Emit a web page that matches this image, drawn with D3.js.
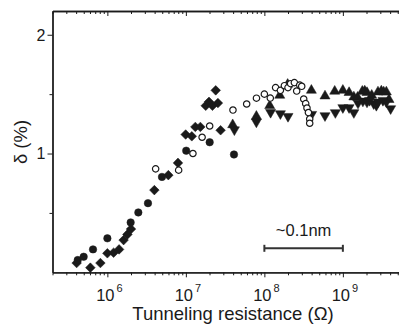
<!DOCTYPE html>
<html>
<head>
<meta charset="utf-8">
<script src="https://cdn.jsdelivr.net/npm/d3@7"></script>
<style>
  body { margin: 0; background: #fff; }
  svg { display: block; font-family: "Liberation Sans", Arial, sans-serif; }
</style>
</head>
<body>
<div id="chart"></div>
<script>
// resistance (Ohm) / delta (%)
const filledCircleR = [4.19e5, 4.99e5, 6.56e5, 1.0e6, 1.98e6, 2.48e6, 3.29e6, 4.96e6, 1.01e7, 2.01e7, 4.10e7];
const filledCircleD = [0.103, 0.131, 0.193, 0.286, 0.42, 0.504, 0.582, 0.803, 1.024, 1.095, 0.992];

const diamondR = [4.06e5, 6.07e5, 8.15e5, 1.0e6, 1.20e6, 1.41e6, 1.61e6, 1.80e6, 2.0e6, 3.97e6, 5.98e6, 7.93e6,
  9.94e6, 1.19e7, 1.32e7, 1.53e7, 1.79e7, 1.97e7, 2.18e7, 2.56e7, 2.40e7, 2.77e7];
const diamondD = [0.078, 0.039, 0.078, 0.16, 0.165, 0.193, 0.271, 0.319, 0.364, 0.692, 0.818, 0.921,
  1.16, 1.145, 1.224, 1.224, 1.402, 1.435, 1.402, 1.425, 1.532, 1.196];

const openCircleR = [4.12e6, 8.09e6, 1.23e7, 1.61e7, 2.01e7, 3.98e7, 5.95e7, 7.93e7, 1.0e8, 1.19e8, 1.39e8, 1.60e8,
  1.80e8, 2.0e8, 2.16e8, 2.41e8, 2.58e8, 2.82e8, 2.99e8, 3.17e8, 3.36e8, 3.49e8, 3.64e8, 3.78e8, 3.78e8];
const openCircleD = [0.871, 0.86, 1.0, 1.137, 1.232, 1.366, 1.417, 1.466, 1.5, 1.467, 1.555, 1.532,
  1.571, 1.555, 1.588, 1.597, 1.526, 1.576, 1.566, 1.459, 1.42, 1.383, 1.345, 1.291, 1.255];

const upR = [3.95e7, 7.91e7, 1.17e8, 1.57e8, 1.98e8, 3.97e8, 5.92e8, 7.87e8, 1.0e9, 1.20e9, 1.38e9,
  1.54e9, 1.77e9, 1.90e9, 2.03e9, 2.33e9, 2.80e9, 3.09e9, 3.31e9, 3.58e9, 3.87e9];
const upD = [1.242, 1.313, 1.403, 1.49, 1.582, 1.532, 1.484, 1.524, 1.532, 1.513, 1.476,
  1.473, 1.524, 1.526, 1.513, 1.49, 1.518, 1.526, 1.518, 1.518, 1.454];

const downR = [4.15e7, 7.91e7, 1.20e8, 1.60e8, 2.0e8, 4.0e8, 5.92e8, 8.02e8, 1.0e9, 1.20e9, 1.38e9,
  1.56e9, 1.80e9, 2.03e9, 2.19e9, 2.47e9, 2.67e9, 2.80e9, 3.24e9, 3.58e9, 4.06e9];
const downD = [1.2, 1.266, 1.347, 1.336, 1.313, 1.33, 1.319, 1.345, 1.387, 1.387, 1.345,
  1.425, 1.442, 1.434, 1.448, 1.42, 1.406, 1.434, 1.448, 1.434, 1.378];

const xMajorExp = [6, 7, 8, 9];
const yMajor = [1, 2];
const yMinor = [0.5, 1.5];
const scaleBar = [1e8, 1e9];
const scaleBarLabel = '~0.1nm';

const W = 399, H = 326;
const padL = 52.5, padT = 11, baseY = 272.3;
const decade = 78.5;

const svg = d3.select('#chart').append('svg').attr('width', W).attr('height', H);

const x = d3.scaleLog().domain([2e5, 1e10]).range([padL, padL + Math.log10(1e10 / 2e5) * decade]);
const y = d3.scaleLinear().domain([0, 2.2]).range([baseY, padT]);

const ink = '#1a1a1a';
const majorVals = xMajorExp.map(e => Math.pow(10, e));

// bottom axis
const minorX = x.ticks().filter(v => !majorVals.some(m => Math.abs(v - m) < 1));
const gB = svg.append('g').attr('transform', 'translate(0,' + baseY + ')');
gB.call(d3.axisBottom(x).tickValues(minorX).tickSize(3).tickSizeOuter(0).tickFormat(''));
gB.append('g').call(d3.axisBottom(x).tickValues(majorVals).tickSize(5).tickSizeOuter(0).tickFormat(''));

// top axis, ticks inward
const gT = svg.append('g').attr('transform', 'translate(0,' + padT + ')');
gT.call(d3.axisBottom(x).tickValues(minorX).tickSize(3).tickSizeOuter(0).tickFormat(''));
gT.append('g').call(d3.axisBottom(x).tickValues(majorVals).tickSize(5).tickSizeOuter(0).tickFormat(''));

// left axis
const gL = svg.append('g').attr('transform', 'translate(' + padL + ',0)');
gL.call(d3.axisLeft(y).tickValues(yMajor).tickSize(5).tickSizeOuter(0).tickFormat(''));
gL.append('g').call(d3.axisLeft(y).tickValues(yMinor).tickSize(3).tickSizeOuter(0).tickFormat(''));

svg.selectAll('.domain').attr('stroke', ink).attr('stroke-width', 1.3);
svg.selectAll('.tick line').attr('stroke', ink).attr('stroke-width', 1);

// y tick labels
svg.append('g').selectAll('text').data(yMajor).enter().append('text')
  .attr('x', padL - 7).attr('y', d => y(d) + 5.8)
  .attr('text-anchor', 'end').attr('font-size', 16).attr('fill', ink)
  .text(d => d);

// x tick labels 10^n
const xl = svg.append('g').selectAll('text').data(xMajorExp).enter().append('text')
  .attr('x', d => x(Math.pow(10, d)) + 2).attr('y', baseY + 28.5)
  .attr('text-anchor', 'middle').attr('font-size', 16.5).attr('fill', ink);
xl.append('tspan').text('10');
xl.append('tspan').attr('dx', 2).attr('dy', -8.5).attr('font-size', 11).text(d => d);

// axis titles
svg.append('text').attr('x', 233).attr('y', 320).attr('text-anchor', 'middle')
  .attr('font-size', 18.5).attr('fill', ink).text('Tunneling resistance (Ω)');
svg.append('text').attr('transform', 'translate(27,142) rotate(-90)').attr('text-anchor', 'middle')
  .attr('font-size', 18.5).attr('fill', ink).text('δ (%)');

// markers
function series(rs, ds, type, size, rot, fill) {
  svg.append('g').selectAll('path').data(rs.map((r, i) => [r, ds[i]])).enter().append('path')
    .attr('d', d3.symbol().type(type).size(size))
    .attr('transform', d => 'translate(' + x(d[0]) + ',' + y(d[1]) + ') rotate(' + rot + ')')
    .attr('fill', fill).attr('stroke', ink).attr('stroke-width', fill === '#fff' ? 1.2 : 0.5);
}
series(diamondR, diamondD, d3.symbolSquare, 46, 45, ink);
series(filledCircleR, filledCircleD, d3.symbolCircle, 44, 0, ink);
series(upR, upD, d3.symbolTriangle, 44, 0, ink);
series(downR, downD, d3.symbolTriangle, 44, 180, ink);
series(openCircleR, openCircleD, d3.symbolCircle, 32, 0, '#fff');

// scale bar
const by = 248.3;
const bar = svg.append('g').attr('stroke', '#333').attr('stroke-width', 2);
bar.append('line').attr('x1', x(scaleBar[0])).attr('x2', x(scaleBar[1])).attr('y1', by).attr('y2', by);
bar.selectAll('.cap').data(scaleBar).enter().append('line')
  .attr('x1', d => x(d)).attr('x2', d => x(d)).attr('y1', by - 3.5).attr('y2', by + 3.5);
svg.append('text').attr('x', (x(scaleBar[0]) + x(scaleBar[1])) / 2).attr('y', 236)
  .attr('text-anchor', 'middle').attr('font-size', 16.5).attr('fill', ink).text(scaleBarLabel);
</script>
</body>
</html>
